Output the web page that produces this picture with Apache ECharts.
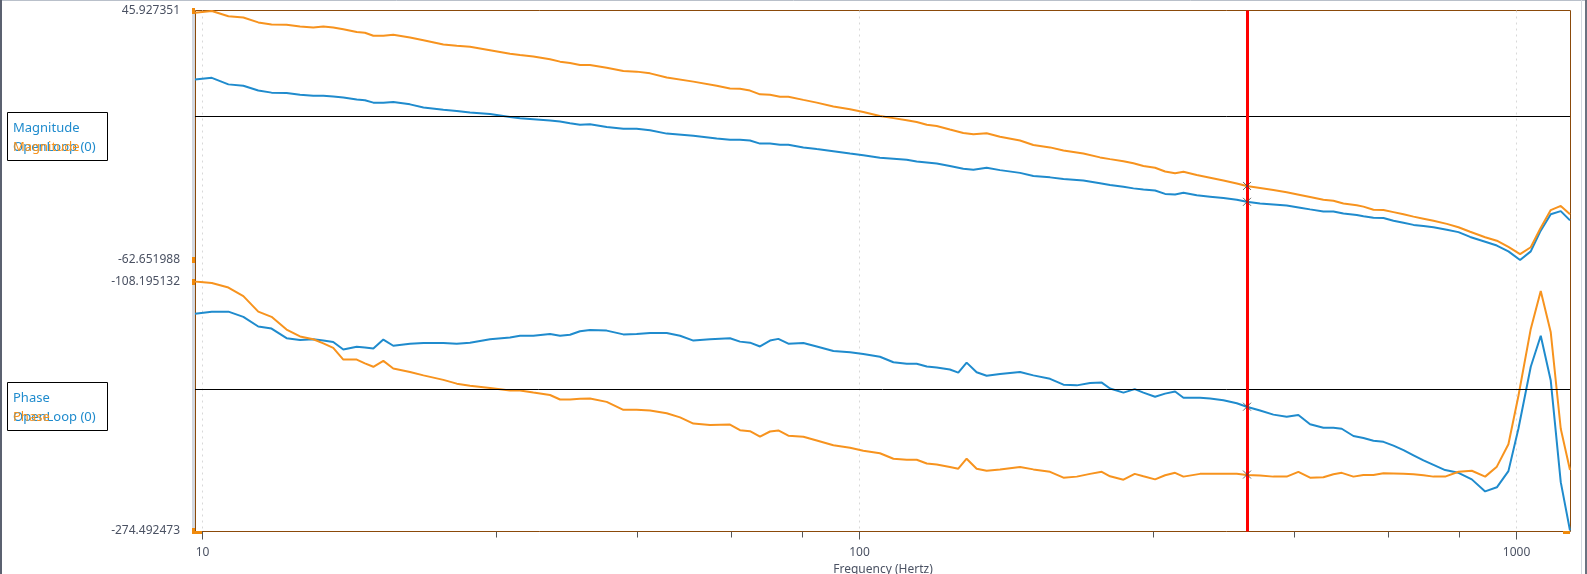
<!DOCTYPE html>
<html>
<head>
<meta charset="utf-8">
<script src="https://cdn.jsdelivr.net/npm/echarts@6/dist/echarts.min.js"></script>
<style>
html, body { margin: 0; padding: 0; background: #fff; }
#view { width: 1587px; height: 574px; }
</style>
</head>
<body>
<div id="view"></div>
<script>
var myChart = echarts.init(document.getElementById('view'));

// frequency (Hz) of the magnitude points
var magFreq = [
    9.758, 10.35, 10.97, 11.56, 12.18, 12.76, 13.45, 14.10, 14.77, 15.30, 15.84, 16.41, 17.20, 17.70, 18.23, 18.88, 19.55,
    20.73, 21.73, 23.30, 24.42, 25.58, 27.44, 29.43, 30.48, 31.94, 33.86, 35.07, 36.32, 37.61, 38.95, 41.30, 43.78, 45.87,
    48.08, 50.97, 55.96, 60.73, 63.62, 65.89, 68.24, 70.68, 73.20, 75.81, 78.06, 82.28, 86.23, 91.40, 96.90, 101.5, 107.6,
    112.8, 118.2, 122.4, 126.8, 131.3, 137.5, 144.1, 149.3, 156.4, 163.9, 175.8, 184.2, 195.3, 204.7, 219.5, 232.7,
    241.0, 252.6, 261.6, 270.9, 282.2, 292.3, 302.7, 311.7, 326.6, 342.2, 358.6, 375.8, 389.1, 407.7, 427.2, 447.6, 469.1,
    485.8, 509.0, 527.2, 546.0, 572.2, 585.7, 606.6, 628.3, 650.7, 674.0, 698.1, 722.9, 748.7, 784.5, 817.2, 851.3, 897.3,
    934.8, 973.5, 1014.1, 1052.8, 1087.8, 1129.2, 1169.5, 1208
];
var magOrange = [
    45.17, 45.92, 43.67, 43.07, 40.96, 40.06, 39.91, 39.16, 38.71, 39.16, 38.71, 37.96, 36.76, 36.46, 35.11, 35.11, 35.56,
    34.36, 33.15, 31.35, 30.75, 30.30, 28.80, 27.30, 26.70, 26.10, 24.89, 23.84, 23.24, 22.34, 22.34, 21.14, 19.79, 19.49,
    18.74, 16.93, 15.13, 13.33, 12.13, 11.98, 11.23, 9.58, 9.43, 8.53, 8.53, 7.17, 5.97, 4.32, 3.12, 1.92, 0.12,
    -0.79, -1.69, -2.44, -3.64, -4.24, -5.74, -7.24, -7.84, -7.39, -8.90, -10.55, -12.50, -13.55, -14.90, -16.25, -17.91,
    -18.66, -19.56, -20.46, -21.66, -22.41, -24.06, -24.81, -24.21, -25.57, -26.77, -27.97, -29.32, -30.37, -31.27, -32.17, -33.07, -34.28,
    -35.18, -36.38, -36.83, -38.03, -38.78, -39.38, -40.73, -40.88, -41.78, -42.69, -43.74, -44.64, -45.54, -46.89, -48.39, -50.34, -52.75,
    -54.25, -56.95, -60.11, -57.10, -49.14, -40.88, -39.08, -42.69
];
var magBlue = [
    16.03, 16.78, 13.93, 13.33, 11.23, 10.33, 10.18, 9.43, 8.98, 8.98, 8.68, 8.22, 7.32, 7.02, 5.97, 5.97, 6.27,
    5.22, 3.87, 2.82, 2.37, 1.62, 1.02, -0.34, -0.79, -1.24, -1.84, -2.29, -3.04, -3.64, -3.49, -4.69, -5.44, -5.44,
    -6.04, -7.54, -8.45, -9.65, -10.25, -10.25, -10.55, -11.90, -11.90, -12.35, -12.35, -13.55, -14.30, -15.20, -16.25, -17.01, -18.06,
    -18.51, -18.96, -19.71, -20.16, -20.61, -21.66, -22.86, -23.31, -22.41, -23.46, -24.66, -26.02, -26.62, -27.37, -27.97, -29.17,
    -29.92, -30.67, -31.42, -31.87, -32.32, -33.82, -34.13, -33.37, -34.43, -35.03, -35.63, -36.38, -37.28, -38.03, -38.48, -38.93, -39.83,
    -40.58, -41.48, -41.48, -42.39, -42.99, -43.59, -44.19, -44.34, -45.54, -46.44, -47.34, -47.79, -48.39, -49.44, -50.49, -52.60, -54.70,
    -56.35, -58.90, -62.65, -58.90, -50.34, -42.69, -41.33, -45.39
];

// frequency (Hz) of the phase points
var phaseFreq = [
    9.758, 10.35, 10.97, 11.56, 12.18, 12.76, 13.45, 14.10, 14.77, 15.30, 15.84, 16.41, 17.20, 17.70, 18.23, 18.88, 19.55,
    20.73, 21.73, 23.30, 24.42, 25.58, 27.44, 29.43, 30.48, 31.94, 33.86, 35.07, 36.32, 37.61, 38.95, 41.30, 43.78, 45.87,
    48.08, 50.97, 53.41, 55.96, 59.32, 63.62, 65.89, 68.24, 70.68, 73.20, 75.37, 78.06, 82.28, 86.23, 91.40, 96.90, 101.5, 107.6,
    112.8, 118.2, 122.4, 126.8, 131.3, 137.5, 141.6, 145.8, 151.0, 156.4, 163.9, 175.8, 184.2, 195.3, 204.7, 214.5, 224.7, 234.1,
    241.0, 252.6, 262.8, 270.9, 282.2, 292.3, 302.7, 311.7, 330.4, 342.2, 358.6, 375.8, 389.1, 407.7, 427.2, 447.6, 466.3,
    485.8, 509.0, 527.2, 542.8, 565.5, 585.7, 606.6, 628.3, 650.7, 674.0, 698.1, 722.9, 748.7, 779.9, 817.2, 856.3, 897.3,
    934.8, 973.5, 1008.2, 1052.8, 1090.3, 1129.2, 1169.5, 1208
];
var phaseOrange = [
    -108.20, -109.25, -112.24, -117.99, -128.34, -131.79, -140.30, -144.90, -146.74, -149.50, -152.49, -160.31, -160.31, -162.84, -165.14, -161.23, -166.29,
    -168.59, -170.89, -173.88, -176.41, -177.79, -179.40, -181.01, -181.01, -182.39, -184.00, -186.99, -186.99, -186.53, -186.30, -188.60, -193.89, -193.89,
    -194.35, -196.19, -198.95, -203.09, -204.01, -203.78, -207.46, -208.15, -211.83, -208.38, -207.69, -211.14, -211.83, -214.36, -217.58, -219.19, -221.26, -222.87,
    -226.55, -227.24, -227.24, -229.77, -230.46, -232.07, -233.22, -226.55, -233.22, -234.60, -233.68, -232.07, -233.68, -235.29, -239.20, -238.51, -236.67, -235.29,
    -238.28, -240.58, -236.67, -238.28, -240.35, -237.59, -235.98, -238.51, -236.67, -236.67, -236.67, -236.67, -237.36, -237.82, -238.51, -238.51, -235.29,
    -239.20, -238.97, -236.90, -235.98, -238.51, -237.36, -237.36, -236.21, -236.44, -236.67, -236.90, -237.59, -238.51, -238.51, -235.29, -234.60, -238.51,
    -231.84, -216.89, -184.69, -139.84, -114.54, -142.14, -206.54, -234.14
];
var phaseBlue = [
    -129.72, -128.34, -128.34, -131.79, -138.23, -139.61, -146.05, -147.20, -146.74, -147.66, -148.58, -153.64, -151.80, -152.26, -152.95, -146.97, -151.11,
    -149.73, -149.27, -149.27, -149.73, -149.04, -146.74, -145.59, -144.44, -144.44, -143.29, -144.44, -143.75, -141.45, -140.53, -140.99, -143.52, -143.29,
    -142.60, -142.60, -144.44, -147.66, -146.74, -146.05, -148.35, -149.04, -151.57, -147.66, -146.51, -149.73, -149.27, -151.57, -154.56, -155.48, -156.63, -158.47,
    -162.15, -163.07, -163.07, -164.91, -165.60, -166.98, -169.05, -162.38, -168.82, -171.12, -169.97, -168.59, -170.89, -173.19, -177.10, -177.56, -175.95, -175.72,
    -179.63, -182.39, -180.09, -182.39, -185.15, -183.08, -181.70, -185.84, -185.84, -186.30, -187.45, -189.52, -191.82, -194.35, -197.11, -198.49, -197.34,
    -203.55, -205.85, -205.85, -206.54, -211.37, -212.75, -214.59, -215.28, -217.81, -220.80, -224.25, -227.70, -230.69, -234.14, -235.98, -240.35, -248.40,
    -245.64, -234.83, -206.54, -165.14, -144.44, -174.34, -242.19, -274.49
];

var freqRange = [9.758, 1208];
var magRange = [-62.651988, 45.927351];
var phaseRange = [-274.492473, -108.195132];
var decadeTicks = [10, 100, 1000];
var minorTicks = [28, 46, 64, 82, 280, 460, 640, 820];
var magRef = 0;
var phaseRef = -180;
var cursorFreq = 389.5;
var cursorMag = [-30.37, -37.28];      // orange, blue
var cursorPhase = [-237.13, -191.82];  // orange, blue

var BLUE = '#1f8bcd';
var ORANGE = '#f7931e';
var FRAME = '#8b4a0a';
var LABEL = '#4b5263';
var FONT = 'Noto Sans';

function zip(xs, ys) {
    return xs.map(function (x, i) { return [x, ys[i]]; });
}

function lg(v) { return Math.log10(v); }

function valueAxis(grid, range) {
    return {
        type: 'value',
        gridIndex: grid,
        min: range[0],
        max: range[1],
        interval: range[1] - range[0],
        axisLine: { show: false },
        axisTick: { show: true, length: 3, lineStyle: { color: '#f08a0c', width: 6 } },
        axisLabel: {
            color: LABEL, fontSize: 12, fontFamily: FONT, margin: 15,
            formatter: function (v) { return v.toFixed(6); }
        },
        splitLine: { show: false }
    };
}

function refLine(value) {
    return {
        silent: true,
        symbol: 'none',
        label: { show: false },
        lineStyle: { color: '#000', width: 1, type: 'solid' },
        emphasis: { disabled: true },
        data: [{ yAxis: value }]
    };
}

function curve(name, color, xi, yi, data, ref) {
    var s = {
        name: name,
        type: 'line',
        xAxisIndex: xi,
        yAxisIndex: yi,
        data: data,
        showSymbol: false,
        symbol: 'none',
        lineStyle: { color: color, width: 2 },
        itemStyle: { color: color },
        z: 3,
        silent: true
    };
    if (ref != null) s.markLine = refLine(ref);
    return s;
}

function crossMarks(xi, yi, vals) {
    return {
        type: 'scatter',
        xAxisIndex: xi,
        yAxisIndex: yi,
        data: vals.map(function (v) { return [cursorFreq, v]; }),
        symbol: 'path://M0,0L10,10M10,0L0,10',
        symbolSize: 8,
        itemStyle: { color: 'none', borderColor: '#444', borderWidth: 1 },
        z: 10,
        silent: true
    };
}

function legendBox(top, title) {
    return [
        { type: 'rect', shape: { x: 7.5, y: top + 0.5, width: 100, height: 48 },
          style: { fill: '#fff', stroke: '#000', lineWidth: 1 }, z: 20 },
        { type: 'text', x: 13, y: top + 16, z: 21,
          style: { text: title, fill: BLUE, fontSize: 13, fontFamily: FONT, verticalAlign: 'middle' } },
        { type: 'text', x: 13, y: top + 35, z: 21,
          style: { text: 'OpenLoop (0)', fill: BLUE, fontSize: 13, fontFamily: FONT, verticalAlign: 'middle' } },
        { type: 'text', x: 13, y: top + 35.5, z: 22,
          style: { text: title, fill: ORANGE, fontSize: 13, fontFamily: FONT, verticalAlign: 'middle' } }
    ];
}

var option = {
    animation: false,
    backgroundColor: '#fff',
    textStyle: { fontFamily: FONT },
    grid: [
        { left: 195.5, right: 16.5, top: 10.5, bottom: 42.5, show: true, borderColor: FRAME, borderWidth: 1,
          backgroundColor: 'transparent', outerBoundsMode: 'none' },
        { left: 195, right: 17, top: 11, height: 249, outerBoundsMode: 'none' },
        { left: 195, right: 17, top: 281.5, height: 249, outerBoundsMode: 'none' }
    ],
    xAxis: [
        // decade ticks, labels, dotted grid lines over the whole frame
        {
            type: 'value', gridIndex: 0, position: 'bottom',
            min: lg(freqRange[0]), max: lg(freqRange[1]),
            axisLine: { show: false },
            axisTick: { show: true, length: 8, customValues: decadeTicks.map(lg), lineStyle: { color: '#555' } },
            axisLabel: {
                customValues: decadeTicks.map(lg), color: LABEL, fontSize: 12, fontFamily: FONT, margin: 15,
                formatter: function (v) { return String(Math.round(Math.pow(10, v))); }
            },
            splitLine: { show: true, lineStyle: { color: '#d8d8d8', type: [2, 4], width: 1 } },
            name: 'Frequency (Hertz)', nameLocation: 'middle', nameGap: 29,
            nameTextStyle: { color: LABEL, fontSize: 12, fontFamily: FONT }
        },
        { type: 'log', gridIndex: 1, min: freqRange[0], max: freqRange[1], show: false },
        { type: 'log', gridIndex: 2, min: freqRange[0], max: freqRange[1], show: false },
        // minor ticks along the bottom
        {
            type: 'value', gridIndex: 2, position: 'bottom', offset: 1,
            min: lg(freqRange[0]), max: lg(freqRange[1]),
            axisLine: { show: false },
            axisTick: { show: true, length: 6, customValues: minorTicks.map(lg), lineStyle: { color: '#555' } },
            axisLabel: { show: false },
            splitLine: { show: false }
        },
        { type: 'log', gridIndex: 0, min: freqRange[0], max: freqRange[1], show: false }
    ],
    yAxis: [
        {
            type: 'value', gridIndex: 0, min: 0, max: 1, offset: 2,
            axisLine: { show: true, lineStyle: { color: '#d3d8e0', width: 3 } },
            axisTick: { show: false }, axisLabel: { show: false }, splitLine: { show: false }
        },
        valueAxis(1, magRange),
        valueAxis(2, phaseRange)
    ],
    graphic: [].concat(
        legendBox(112, 'Magnitude'),
        legendBox(382, 'Phase'),
        [
            // orange end markers of the frequency axis
            { type: 'rect', shape: { x: 195, y: 531, width: 7, height: 3 }, style: { fill: '#f08a0c' }, z: 15 },
            { type: 'rect', shape: { x: 1563, y: 531, width: 7, height: 3 }, style: { fill: '#f08a0c' }, z: 15 },
            // window edges
            { type: 'line', shape: { x1: 0, y1: 0.5, x2: 1587, y2: 0.5 }, style: { stroke: '#b9c0ca', lineWidth: 1 }, z: 30 },
            { type: 'line', shape: { x1: 1, y1: 0, x2: 1, y2: 574 }, style: { stroke: '#5b6170', lineWidth: 2 }, z: 30 },
            { type: 'line', shape: { x1: 1581.5, y1: 0, x2: 1581.5, y2: 574 }, style: { stroke: '#d4d9e0', lineWidth: 1 }, z: 30 },
            { type: 'line', shape: { x1: 1586, y1: 0, x2: 1586, y2: 574 }, style: { stroke: '#6b7280', lineWidth: 2 }, z: 30 }
        ]
    ),
    series: [
        curve('OpenLoop (0)', BLUE, 1, 1, zip(magFreq, magBlue), magRef),
        curve('Magnitude', ORANGE, 1, 1, zip(magFreq, magOrange), null),
        curve('OpenLoop (0)', BLUE, 2, 2, zip(phaseFreq, phaseBlue), phaseRef),
        curve('Phase', ORANGE, 2, 2, zip(phaseFreq, phaseOrange), null),
        {
            name: 'cursor',
            type: 'line',
            xAxisIndex: 4,
            yAxisIndex: 0,
            data: [[cursorFreq, 0.5]],
            showSymbol: false,
            symbol: 'none',
            lineStyle: { opacity: 0 },
            z: 6,
            silent: true,
            markLine: {
                silent: true,
                symbol: 'none',
                label: { show: false },
                lineStyle: { color: '#ff0000', width: 3, type: 'solid' },
                emphasis: { disabled: true },
                data: [{ xAxis: cursorFreq }]
            }
        },
        crossMarks(1, 1, cursorMag),
        crossMarks(2, 2, cursorPhase)
    ]
};

myChart.setOption(option);
</script>
</body>
</html>
